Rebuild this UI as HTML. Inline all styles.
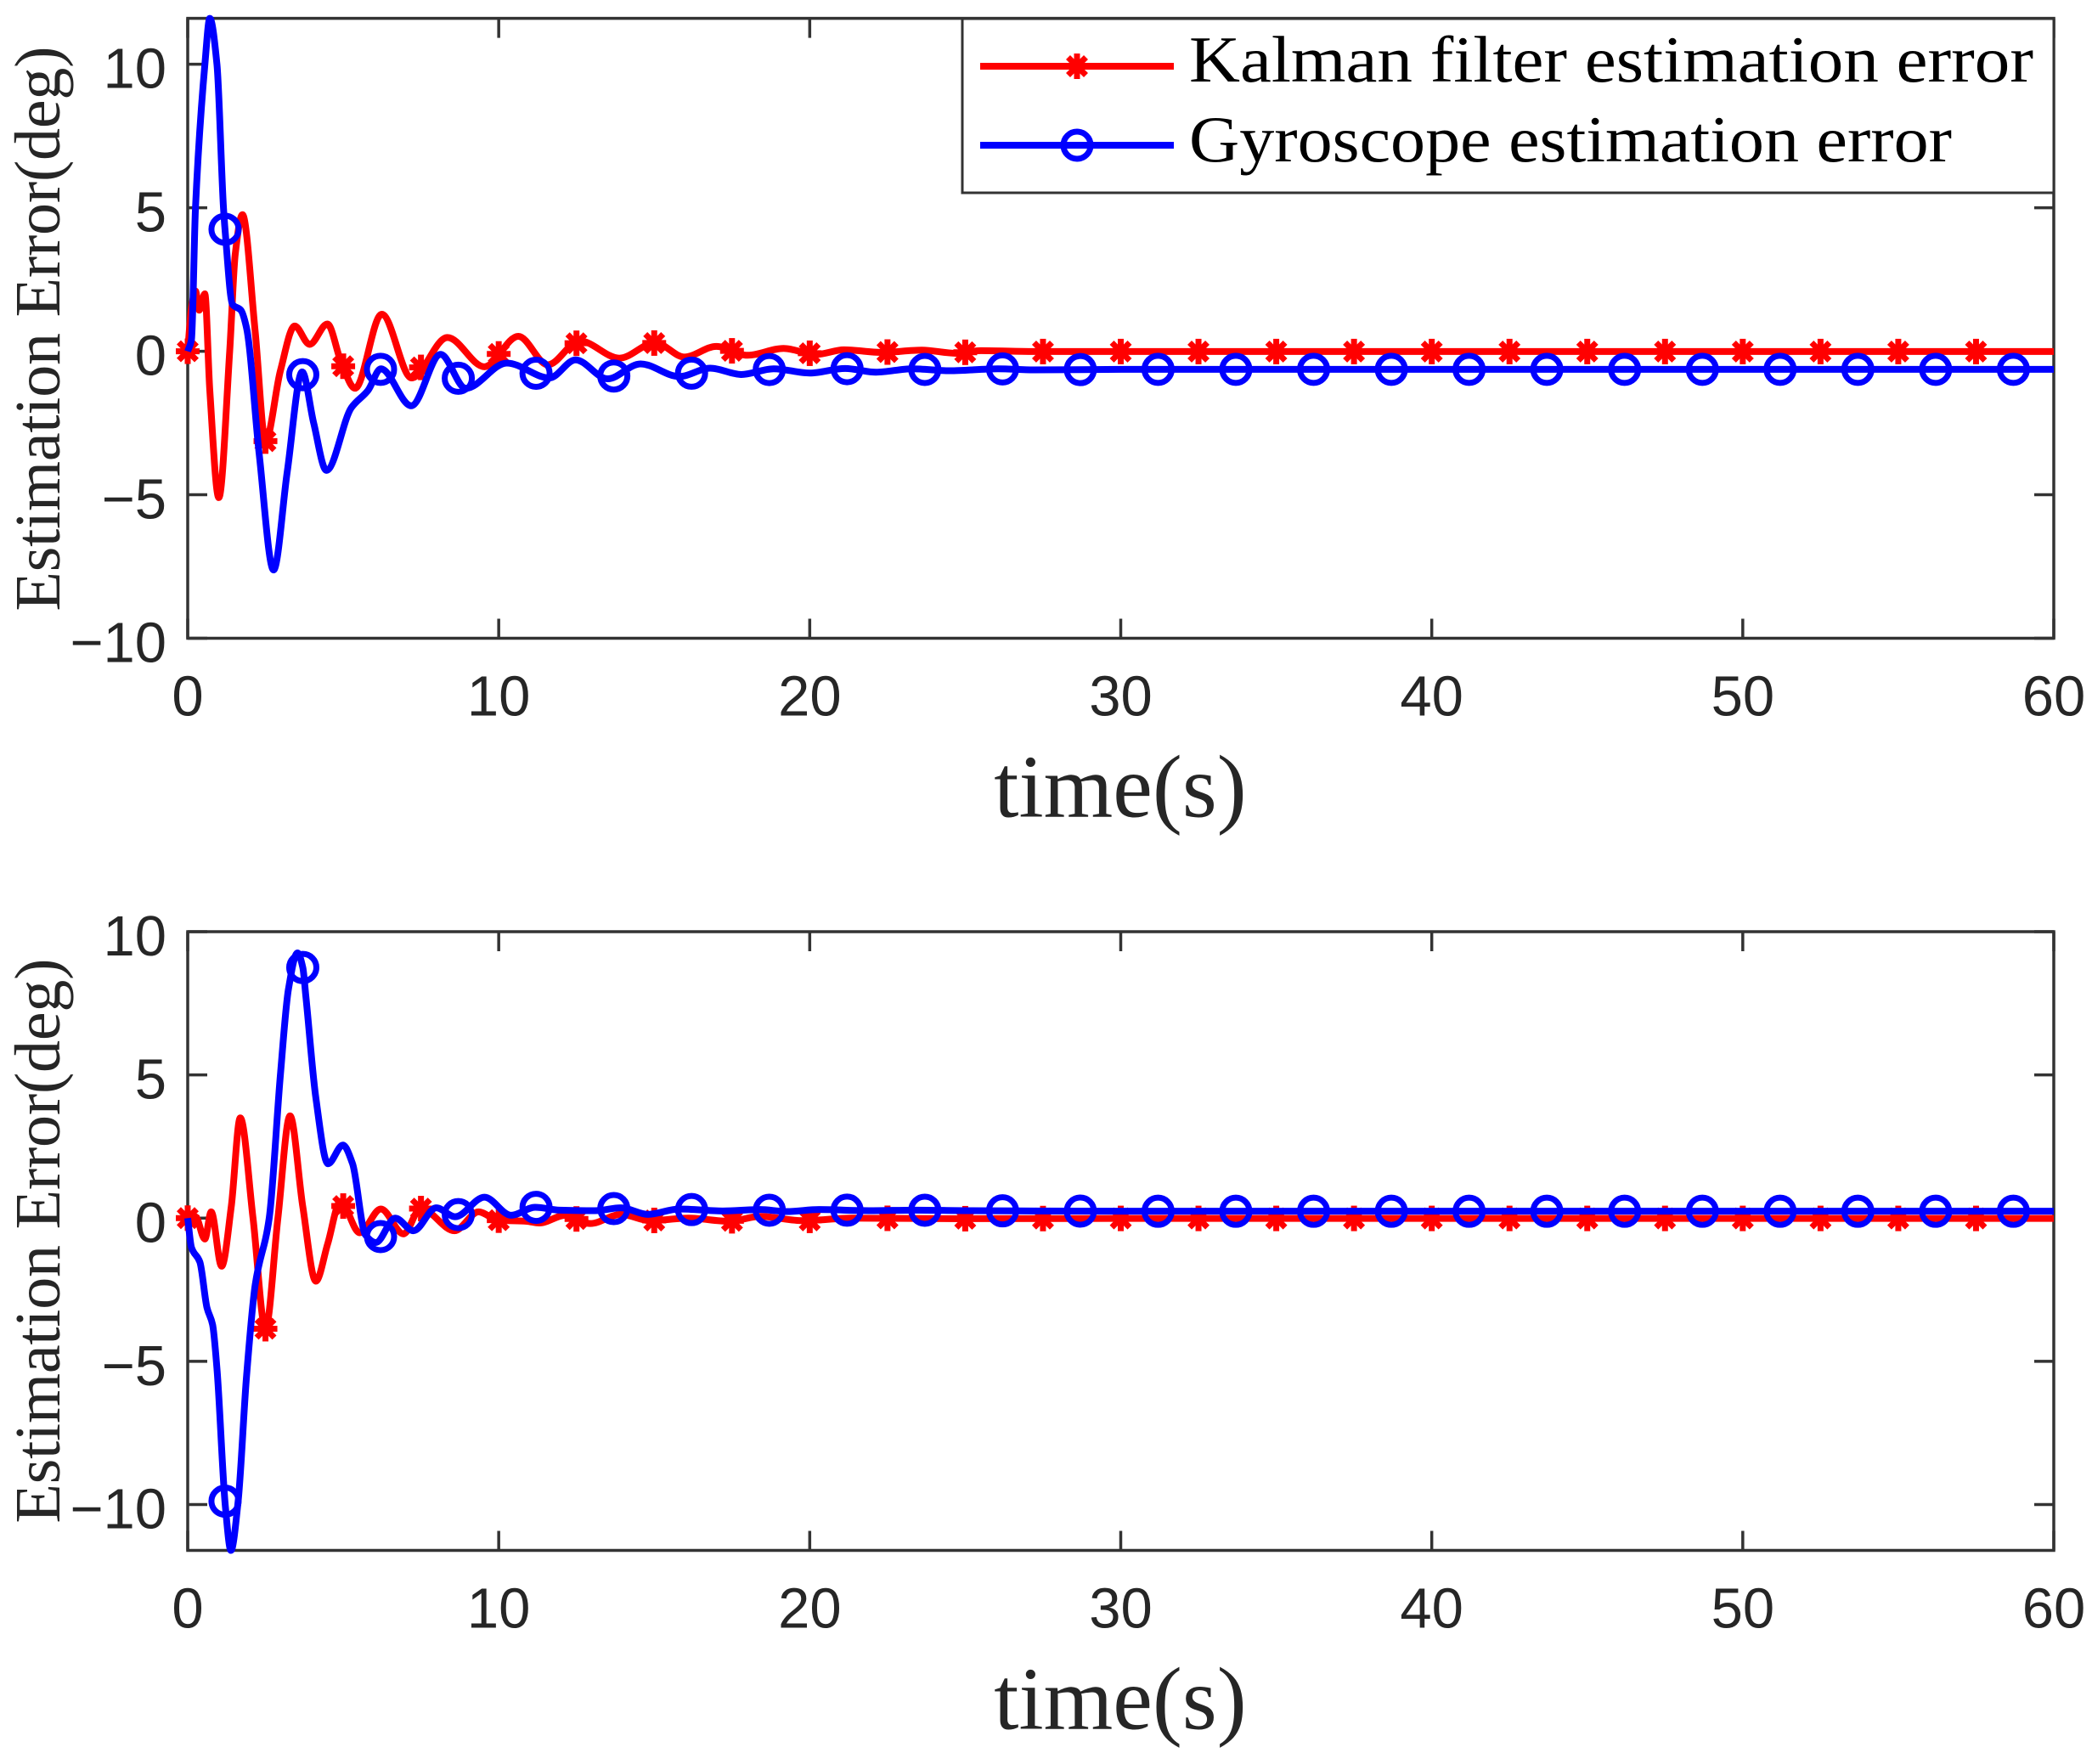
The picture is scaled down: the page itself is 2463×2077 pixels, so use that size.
<!DOCTYPE html>
<html lang="en">
<head>
<meta charset="utf-8">
<title>Estimation error chart</title>
<style>
html,body{margin:0;padding:0;background:#fff;}
svg{display:block;}
.tick-label{font-family:"Liberation Sans",Arial,sans-serif;font-size:67px;fill:#262626;}
.x-title{font-family:"Liberation Serif","Times New Roman",serif;font-size:105px;fill:#262626;text-anchor:middle;}
.y-title{font-family:"Liberation Serif","Times New Roman",serif;font-size:76px;fill:#262626;text-anchor:middle;}
.legend-text{font-family:"Liberation Serif","Times New Roman",serif;font-size:77px;fill:#000;}
</style>
</head>
<body>
<svg id="chart" xmlns="http://www.w3.org/2000/svg" width="2463" height="2077" viewBox="0 0 2463 2077">
  <rect x="0" y="0" width="2463" height="2077" fill="#fff"/>
  <g id="plot-top"></g>
  <g id="plot-bottom"></g>
  <g>
    <rect x="1133" y="22" width="1285" height="205" fill="#fff" stroke="#333" stroke-width="3"/>
    <line x1="1154" y1="78" x2="1382" y2="78" stroke="#f00" stroke-width="8"/>
    <g id="legend-star"></g>
    <text class="legend-text" x="1400" y="96" textLength="994" lengthAdjust="spacingAndGlyphs">Kalman filter estimation error</text>
    <line x1="1154" y1="171" x2="1382" y2="171" stroke="#00f" stroke-width="8"/>
    <circle cx="1268" cy="171" r="16" fill="none" stroke="#00f" stroke-width="7"/>
    <text class="legend-text" x="1400" y="190" textLength="898" lengthAdjust="spacingAndGlyphs">Gyroscope estimation error</text>
  </g>
</svg>
<script>
// ---- chart data ----
const xTicks = [0, 10, 20, 30, 40, 50, 60];
const xTickLabels = ['0', '10', '20', '30', '40', '50', '60'];
const yTicks = [-10, -5, 0, 5, 10];
const yTickLabels = ['\u221210', '\u22125', '0', '5', '10'];

const kalmanMarkerTimes = [0,2.5,5,7.5,10,12.5,15,17.5,20,22.5,25,27.5,30,32.5,35,37.5,40,42.5,45,47.5,50,52.5,55,57.5];
const gyroMarkerTimes = [1.2,3.7,6.2,8.7,11.2,13.7,16.2,18.7,21.2,23.7,26.2,28.7,31.2,33.7,36.2,38.7,41.2,43.7,46.2,48.7,51.2,53.7,56.2,58.7];

const topKalmanTime = [0,0.12,0.25,0.37,0.55,0.71,1.0,1.35,1.53,1.76,2.17,2.5,2.98,3.44,3.92,4.49,4.94,5.38,6.24,7.2,8.35,9.54,10.63,11.58,12.6,13.88,15.03,15.97,17.0,18.0,19.16,20.2,21.1,22.3,23.6,24.7,25.5,27.2,30,40,50,60];
const topKalmanValues = [0,1.5,2.1,1.43,2.0,-1.36,-5.1,0,3.4,4.76,0.68,-3.13,-0.68,0.88,0.24,0.95,-0.4,-1.29,1.29,-0.93,0.48,-0.54,0.52,-0.47,0.36,-0.24,0.3,-0.2,0.17,-0.14,0.1,-0.11,0.05,-0.04,0.04,-0.07,0.02,-0.01,-0.01,-0.01,-0.01,-0.01];
const topGyroTime = [0,0.12,0.25,0.555,0.71,0.94,1.15,1.21,1.44,1.71,1.89,2.3,2.76,3.2,3.68,4.05,4.46,5.26,5.8,6.21,7.19,8.13,8.94,10.26,11.63,12.47,13.5,14.56,15.8,16.8,17.8,18.84,20,21.14,22.13,23.3,24.5,26.05,27.2,30,40,50,60];
const topGyroValues = [0,0.4,5,10.03,11.6,10,5,4.1,1.63,1.43,0.82,-3.6,-7.62,-4.2,-0.72,-2.5,-4.15,-1.97,-1.36,-0.61,-1.9,-0.11,-1.29,-0.41,-0.93,-0.3,-0.96,-0.44,-0.88,-0.59,-0.81,-0.61,-0.76,-0.6,-0.73,-0.61,-0.68,-0.61,-0.65,-0.63,-0.63,-0.63,-0.63];

const bottomKalmanTime = [0,0.25,0.55,0.755,1.09,1.4,1.69,2.1,2.5,2.9,3.29,3.7,4.12,4.5,4.91,5.53,6.21,6.94,7.49,8.58,9.35,9.97,10.9,11.3,12.15,12.94,13.93,14.87,16.1,17.4,18.4,19.8,21.35,25,30,40,50,60];
const bottomKalmanValues = [0,0.05,-0.73,0.22,-1.68,0.4,3.5,0,-3.86,0,3.57,0.4,-2.2,-0.9,0.58,-0.51,0.32,-0.55,0.34,-0.44,0.22,-0.07,-0.11,-0.17,0.1,-0.19,0.13,-0.09,0,-0.11,0.06,-0.09,0,-0.02,-0.01,-0.01,-0.01,-0.01];
const bottomGyroTime = [0,0.12,0.39,0.62,0.8,0.94,1.21,1.39,1.62,1.89,2.17,2.62,2.98,3.24,3.53,3.7,3.8,4.12,4.51,4.99,5.3,5.71,6.05,6.67,7.26,7.99,8.6,9.54,10.4,11.17,11.95,13.1,13.93,14.8,15.8,17.2,18.4,19.26,20.3,21.9,23.4,25,27.2,30,40,50,60];
const bottomGyroValues = [0,-1.02,-1.53,-3.13,-3.72,-5.25,-10.06,-11.6,-9.9,-5.54,-2.33,0,5,8.0,9.26,8.75,7.73,4.2,1.9,2.55,1.9,-0.58,-0.85,0,-0.44,0.36,0.05,0.73,0.1,0.38,0.28,0.26,0.36,0.13,0.32,0.25,0.3,0.23,0.3,0.26,0.28,0.26,0.25,0.24,0.24,0.24,0.24];

const plotConfigs = [
  {id:'plot-top', key:'top', top:21.6, bottom:751.5, yMin:-10, yMax:11.6, kt:topKalmanTime, kv:topKalmanValues, gt:topGyroTime, gv:topGyroValues, titleY:387},
  {id:'plot-bottom', key:'bottom', top:1097, bottom:1825.5, yMin:-11.6, yMax:10, kt:bottomKalmanTime, kv:bottomKalmanValues, gt:bottomGyroTime, gv:bottomGyroValues, titleY:1461}
];

const SVGNS = 'http://www.w3.org/2000/svg';
const LEFT = 221, RIGHT = 2418, X_MAX = 60, TICK = 23;
function sx(t){ return LEFT + (RIGHT - LEFT) * t / X_MAX; }
function make(tag, attrs, parent){
  const el = document.createElementNS(SVGNS, tag);
  for (const k in attrs) el.setAttribute(k, attrs[k]);
  parent.appendChild(el);
  return el;
}
function monotonePath(xs, ys){
  const n = xs.length, d = [], m = [];
  for (let i = 0; i < n - 1; i++) d.push((ys[i+1]-ys[i])/(xs[i+1]-xs[i]));
  m[0] = d[0]; m[n-1] = d[n-2];
  for (let i = 1; i < n - 1; i++){
    if (d[i-1]*d[i] <= 0) m[i] = 0;
    else {
      const a = xs[i]-xs[i-1], b = xs[i+1]-xs[i];
      m[i] = 3*(a+b)/((2*b+a)/d[i-1] + (b+2*a)/d[i]);
    }
  }
  let p = 'M' + xs[0].toFixed(2) + ' ' + ys[0].toFixed(2);
  for (let i = 0; i < n - 1; i++){
    const h = (xs[i+1]-xs[i])/3;
    p += 'C' + (xs[i]+h).toFixed(2) + ' ' + (ys[i]+m[i]*h).toFixed(2) + ' ' + (xs[i+1]-h).toFixed(2) + ' ' + (ys[i+1]-m[i+1]*h).toFixed(2) + ' ' + xs[i+1].toFixed(2) + ' ' + ys[i+1].toFixed(2);
  }
  return p;
}
function valueAt(ts, vs, t){
  for (let i = 0; i < ts.length - 1; i++){
    if (t >= ts[i] && t <= ts[i+1]) return vs[i] + (vs[i+1]-vs[i])*(t-ts[i])/(ts[i+1]-ts[i]);
  }
  return vs[vs.length-1];
}
function drawStar(parent, cx, cy){
  const arms = [[0,-15,0,15],[-14,0,14,0],[-10.5,-10.5,10.5,10.5],[-10.5,10.5,10.5,-10.5]];
  arms.forEach(function(a){
    make('line', {x1:cx+a[0], y1:cy+a[1], x2:cx+a[2], y2:cy+a[3], stroke:'#f00', 'stroke-width':7}, parent);
  });
}

plotConfigs.forEach(function(cfg){
  const g = document.getElementById(cfg.id);
  const sy = function(v){ return cfg.bottom - (cfg.bottom - cfg.top) * (v - cfg.yMin) / (cfg.yMax - cfg.yMin); };

  const frame = make('rect', {x:LEFT, y:cfg.top, width:RIGHT-LEFT, height:cfg.bottom-cfg.top, fill:'none', stroke:'#333', 'stroke-width':3.5}, g);
  
  

  xTicks.forEach(function(t, i){
    const x = sx(t);
    const tb = make('line', {x1:x, y1:cfg.bottom, x2:x, y2:cfg.bottom-TICK, stroke:'#333', 'stroke-width':3.5}, g);
    
    
    const tt = make('line', {x1:x, y1:cfg.top, x2:x, y2:cfg.top+TICK, stroke:'#333', 'stroke-width':3.5}, g);
    
    
    const lab = make('text', {x:x, y:cfg.bottom+91, 'text-anchor':'middle', 'class':'tick-label'}, g);
    
    
    lab.textContent = xTickLabels[i];
  });
  yTicks.forEach(function(v, i){
    const y = sy(v);
    const tl = make('line', {x1:LEFT, y1:y, x2:LEFT+TICK, y2:y, stroke:'#333', 'stroke-width':3.5}, g);
    
    
    const tr = make('line', {x1:RIGHT, y1:y, x2:RIGHT-TICK, y2:y, stroke:'#333', 'stroke-width':3.5}, g);
    
    
    const lab = make('text', {x:196, y:y+28, 'text-anchor':'end', 'class':'tick-label'}, g);
    
    
    lab.textContent = yTickLabels[i];
  });

  const xt = make('text', {x:1319, y:cfg.bottom+210, 'class':'x-title'}, g);
  
  
  xt.textContent = 'time(s)';
  const yt = make('text', {x:0, y:0, 'class':'y-title', transform:'translate(70 ' + cfg.titleY + ') rotate(-90)', textLength:665, lengthAdjust:'spacing'}, g);
  
  
  yt.textContent = 'Estimation Error(deg)';

  const kLine = make('path', {d:monotonePath(cfg.kt.map(sx), cfg.kv.map(sy)), fill:'none', stroke:'#f00', 'stroke-width':8, 'stroke-linejoin':'round'}, g);
  
  
  kalmanMarkerTimes.forEach(function(t){
    const mk = make('g', {}, g);
    
    
    drawStar(mk, sx(t), sy(valueAt(cfg.kt, cfg.kv, t)));
  });

  const gLine = make('path', {d:monotonePath(cfg.gt.map(sx), cfg.gv.map(sy)), fill:'none', stroke:'#00f', 'stroke-width':8, 'stroke-linejoin':'round'}, g);
  
  
  gyroMarkerTimes.forEach(function(t){
    const c = make('circle', {cx:sx(t), cy:sy(valueAt(cfg.gt, cfg.gv, t)), r:16, fill:'none', stroke:'#00f', 'stroke-width':7}, g);
    
    
  });
});
drawStar(document.getElementById('legend-star'), 1268, 78);
</script>
</body>
</html>
